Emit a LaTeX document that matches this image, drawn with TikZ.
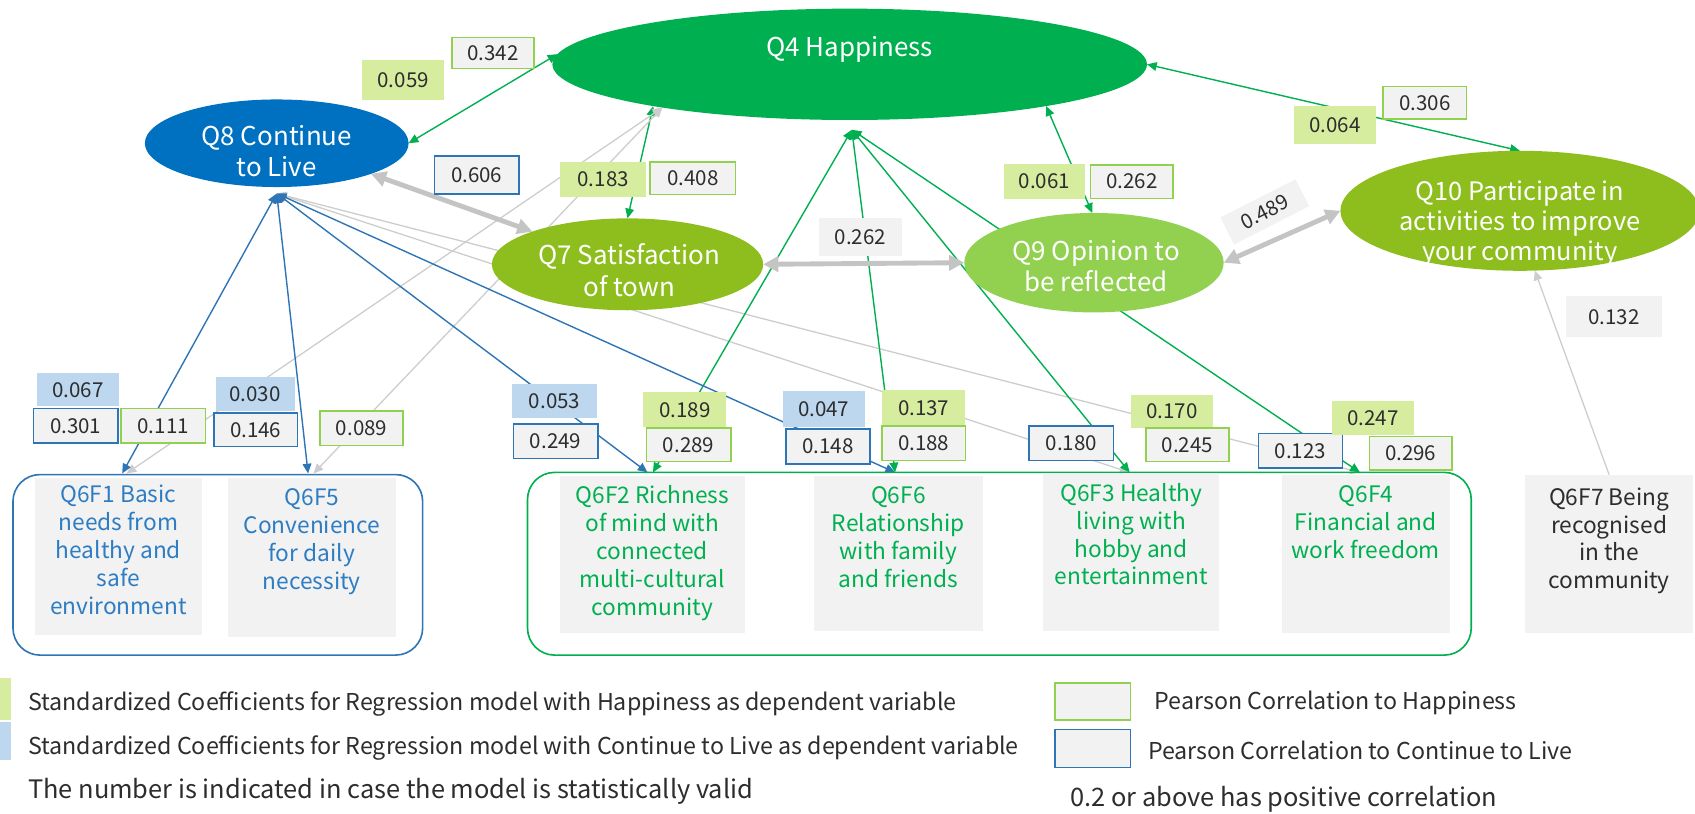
\documentclass[tikz,border=0pt]{standalone}
\usepackage{fontspec}
\setmainfont{Noto Sans CJK JP}
\usetikzlibrary{shapes.geometric,arrows.meta}
\pgfdeclarelayer{links}
\pgfsetlayers{links,main}

\definecolor{hapgreen}{RGB}{0,176,80}
\definecolor{livblue}{RGB}{0,112,192}
\definecolor{satgreen}{RGB}{141,190,30}
\definecolor{opgreen}{RGB}{146,208,80}
\definecolor{regg}{RGB}{214,237,160}
\definecolor{regb}{RGB}{189,215,238}
\definecolor{boxgray}{RGB}{242,242,242}
\definecolor{corrg}{RGB}{146,208,80}
\definecolor{corrb}{RGB}{46,117,182}
\definecolor{linkgray}{RGB}{205,205,205}
\definecolor{widegray}{RGB}{196,196,196}
\definecolor{txtblue}{RGB}{46,125,195}
\definecolor{txtgreen}{RGB}{0,176,80}
\definecolor{txtdark}{RGB}{45,45,45}

\begin{document}
\begin{tikzpicture}[x=1pt,y=-1pt,
  every node/.style={inner sep=0pt,outer sep=0pt},
  oval/.style={ellipse,draw=none},
  ovtext/.style={text=white,align=center,font=\fontsize{24}{29}\selectfont},
  num/.style={text=txtdark,font=\fontsize{19}{20}\selectfont},
  regH/.style={num,fill=regg},
  regL/.style={num,fill=regb},
  corH/.style={num,fill=boxgray,draw=corrg,line width=1.4pt},
  corL/.style={num,fill=boxgray,draw=corrb,line width=1.4pt},
  plain/.style={num,fill=boxgray},
  factor/.style={fill=boxgray},
  ftext/.style={align=center,anchor=north,font=\fontsize{21}{25.8}\selectfont},
  frame/.style={rounded corners=25pt,line width=1.5pt},
  legtext/.style={anchor=west,text=txtdark,font=\fontsize{21.5}{24}\selectfont},
  legbig/.style={legtext,font=\fontsize{23.5}{26}\selectfont},
  tip/.style={>={Triangle[length=9pt,width=8pt]}},
  glink/.style={tip,<->,draw=hapgreen,line width=1.3pt},
  blink/.style={tip,<->,draw=corrb,line width=1.3pt},
  ylink/.style={tip,<->,draw=linkgray,line width=1.2pt},
  wide/.style={>={Triangle[length=14pt,width=14pt]},<->,draw=widegray,line width=4.5pt}
]
\useasboundingbox (0,0) rectangle (1568,753);

% ---- outcome ellipses ----
\node[oval,fill=hapgreen,minimum width=550pt,minimum height=103pt] (q4) at (786,59.5) {};
\node[ovtext] (q4t) at (786,46) {Q4 Happiness};
\node[oval,fill=livblue,minimum width=244pt,minimum height=81pt] (q8) at (256,132.5) {};
\node[ovtext] (q8t) at (256,140) {Q8 Continue\\to Live};
\node[oval,fill=satgreen,minimum width=251pt,minimum height=85pt] (q7) at (580.5,244.5) {};
\node[ovtext] (q7t) at (582,250) {Q7 Satisfaction\\of town};
\node[oval,fill=opgreen,minimum width=240pt,minimum height=92pt] (q9) at (1012,243) {};
\node[ovtext] (q9t) at (1014,246) {Q9 Opinion to\\be reflected};
\node[oval,fill=satgreen,minimum width=332pt,minimum height=111pt] (q10) at (1406,195) {};
\node[ovtext,font=\fontsize{23.5}{28}\selectfont] (q10t) at (1406,207) {Q10 Participate in\\activities to improve\\your community};

% ---- group frames ----
\node[frame,draw=corrb,minimum width=379pt,minimum height=167pt] (lframe) at (201.5,522.5) {};
\node[frame,draw=hapgreen,minimum width=873pt,minimum height=169pt] (gframe) at (924.5,521.5) {};

% ---- factor boxes ----
\node[factor,minimum width=155pt,minimum height=145pt] (f1) at (109.5,514.5) {};
\node[factor,minimum width=155pt,minimum height=147pt] (f5) at (288.5,515.5) {};
\node[factor,minimum width=171pt,minimum height=146pt] (f2) at (603.5,513) {};
\node[factor,minimum width=156pt,minimum height=144pt] (f6) at (831,512) {};
\node[factor,minimum width=163pt,minimum height=146pt] (f3) at (1046.5,511) {};
\node[factor,minimum width=155pt,minimum height=147pt] (f4) at (1263.5,512.5) {};
\node[factor,minimum width=155pt,minimum height=147pt] (f7) at (1488.5,512.5) {};

\node[ftext,text=txtblue] (f1t) at (109.5,449) {Q6F1 Basic\\needs from\\healthy and\\safe\\environment};
\node[ftext,text=txtblue] (f5t) at (288.5,452) {Q6F5\\Convenience\\for daily\\necessity};
\node[ftext,text=txtgreen] (f2t) at (603.5,449) {Q6F2 Richness\\of mind with\\connected\\multi-cultural\\community};
\node[ftext,text=txtgreen] (f6t) at (831,450) {Q6F6\\Relationship\\with family\\and friends};
\node[ftext,text=txtgreen] (f3t) at (1046.5,447) {Q6F3 Healthy\\living with\\hobby and\\entertainment};
\node[ftext,text=txtgreen] (f4t) at (1263.5,449) {Q6F4\\Financial and\\work freedom};
\node[ftext,text=txtdark] (f7t) at (1488.5,451) {Q6F7 Being\\recognised\\in the\\community};

% ---- link end points on the frames ----
\coordinate (q4hub) at (788,120);
\coordinate (q8hub) at (256,179);
\coordinate (f1b) at (113,438);
\coordinate (f1g) at (117,438);
\coordinate (f5b) at (285,438);
\coordinate (f5g) at (290,438);
\coordinate (f2b) at (599,437);
\coordinate (f2g) at (604,437);
\coordinate (f6in) at (828,437);
\coordinate (f3in) at (1045,437);
\coordinate (f4in) at (1258,437);

% ---- links ----
\begin{pgfonlayer}{links}
  \draw[glink] (q4.178) -- (q8.east);
  \draw[glink] (q4.192) -- (q7.north);
  \draw[glink] (q4.348) -- (q9.92);
  \draw[glink] (q4.east) -- (q10.north);
  \draw[ylink] (q4.193) -- (f1g);
  \draw[ylink] (q4.193) -- (f5g);
  \draw[ylink] (q8hub) -- (f3in);
  \draw[ylink] (q8hub) -- (f4in);
  \draw[tip,->,draw=linkgray,line width=1.2pt] (f7.north) -- (q10.284);
  \draw[glink] (q4hub) -- (f2g);
  \draw[glink] (q4hub) -- (f6in);
  \draw[glink] (q4hub) -- (f3in);
  \draw[glink] (q4hub) -- (f4in);
  \draw[blink] (q8hub) -- (f1b);
  \draw[blink] (q8hub) -- (f5b);
  \draw[blink] (q8hub) -- (f2b);
  \draw[blink] (q8hub) -- (f6in);
  \draw[wide] (q8.-18) -- (q7.161);
  \draw[wide] (q7.east) -- (q9.west);
  \draw[wide] (q9.east) -- (q10.west);
\end{pgfonlayer}

% ---- coefficient labels ----
\node[corH,minimum width=76pt,minimum height=29pt] (p342) at (456,49) {0.342};
\node[regH,minimum width=76pt,minimum height=37pt] (s059) at (373,74) {0.059};
\node[corL,minimum width=78pt,minimum height=35pt] (c606) at (441,162) {0.606};
\node[regH,minimum width=80pt,minimum height=33pt] (s183) at (558,166) {0.183};
\node[corH,minimum width=79pt,minimum height=30pt] (p408) at (641,165) {0.408};
\node[plain,minimum width=76pt,minimum height=35pt] (g262) at (796,219.5) {0.262};
\node[regH,minimum width=75pt,minimum height=33pt] (s061) at (966,168) {0.061};
\node[corH,minimum width=76pt,minimum height=31pt] (p262) at (1047,168) {0.262};
\node[corH,minimum width=77pt,minimum height=30pt] (p306) at (1318,95) {0.306};
\node[regH,minimum width=76pt,minimum height=35pt] (s064) at (1235,116) {0.064};
\node[plain,minimum width=78pt,minimum height=28pt,rotate=27] (g489) at (1170,196) {0.489};
\node[plain,minimum width=88pt,minimum height=38pt] (g132) at (1493,293) {0.132};

\node[regL,minimum width=76pt,minimum height=31pt] (c067) at (72,360.5) {0.067};
\node[corL,minimum width=78pt,minimum height=32pt] (c301) at (70,394) {0.301};
\node[corH,minimum width=78pt,minimum height=32pt] (p111) at (151,394) {0.111};
\node[regL,minimum width=73pt,minimum height=31pt] (c030) at (236,364.5) {0.030};
\node[corL,minimum width=77pt,minimum height=31pt] (c146) at (236.5,397.5) {0.146};
\node[corH,minimum width=77pt,minimum height=32pt] (p089) at (334.5,396) {0.089};
\node[regL,minimum width=78pt,minimum height=32pt] (c053) at (513,371) {0.053};
\node[corL,minimum width=78pt,minimum height=32pt] (c249) at (514,408) {0.249};
\node[regH,minimum width=77pt,minimum height=32pt] (s189) at (633.5,379) {0.189};
\node[corH,minimum width=78pt,minimum height=31pt] (p289) at (637,411.5) {0.289};
\node[regL,minimum width=76pt,minimum height=33pt] (c047) at (762,378.5) {0.047};
\node[corL,minimum width=78pt,minimum height=32pt] (c148) at (766,413) {0.148};
\node[regH,minimum width=77pt,minimum height=33pt] (s137) at (854.5,377.5) {0.137};
\node[corH,minimum width=77pt,minimum height=32pt] (p188) at (854.5,410) {0.188};
\node[corL,minimum width=78pt,minimum height=32pt] (c180) at (991,410) {0.180};
\node[regH,minimum width=76pt,minimum height=31pt] (s170) at (1084,380.5) {0.170};
\node[corH,minimum width=77pt,minimum height=31pt] (p245) at (1098.5,411.5) {0.245};
\node[corL,minimum width=78pt,minimum height=32pt] (c123) at (1203,417) {0.123};
\node[regH,minimum width=76pt,minimum height=31pt] (s247) at (1270,386.5) {0.247};
\node[corH,minimum width=76pt,minimum height=31pt] (p296) at (1305,419.5) {0.296};

% ---- legend ----
\node[fill=regg,minimum width=10pt,minimum height=39pt] (lgH) at (5,646.5) {};
\node[fill=regb,minimum width=10pt,minimum height=35pt] (lgL) at (5,685.5) {};
\node[legtext] (lt1) at (26,651) {Standardized Coefficients for Regression model with Happiness as dependent variable};
\node[legtext] (lt2) at (26,692) {Standardized Coefficients for Regression model with Continue to Live as dependent variable};
\node[legbig] (lt3) at (26,732) {The number is indicated in case the model is statistically valid};
\node[fill=boxgray,draw=corrg,line width=1.4pt,minimum width=70pt,minimum height=34pt] (lpH) at (1011,649) {};
\node[fill=boxgray,draw=corrb,line width=1.4pt,minimum width=70pt,minimum height=35pt] (lpL) at (1011,692.5) {};
\node[legtext] (lt4) at (1068,650) {Pearson Correlation to Happiness};
\node[legtext] (lt5) at (1062,694) {Pearson Correlation to Continue to Live};
\node[legbig] (lt6) at (990,739) {0.2 or above has positive correlation};
\end{tikzpicture}
\end{document}
